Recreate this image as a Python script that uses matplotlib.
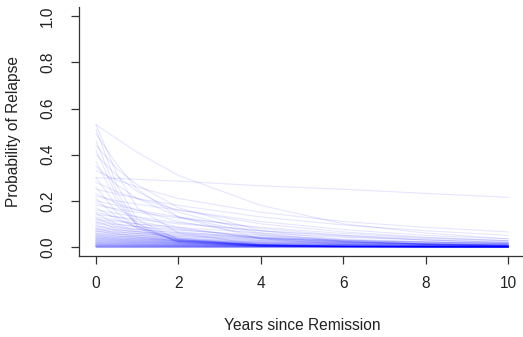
import matplotlib
matplotlib.use("Agg")
import matplotlib.pyplot as plt
import numpy as np

years = [0, 0.5, 1, 2, 4, 6, 8, 10]

# probability of relapse, one row per subject
relapse_curves = [
    [0.53, 0.47, 0.41, 0.31, 0.18, 0.10, 0.06, 0.035],
    [0.53, 0.32, 0.17, 0.06, 0.01, 0.002, 0, 0],
    [0.51, 0.27, 0.12, 0.03, 0.004, 0, 0, 0],
    [0.49, 0.36, 0.25, 0.13, 0.035, 0.01, 0.004, 0.001],
    [0.46, 0.24, 0.10, 0.02, 0.002, 0, 0, 0],
    [0.44, 0.34, 0.27, 0.17, 0.07, 0.03, 0.014, 0.006],
    [0.42, 0.22, 0.09, 0.02, 0.002, 0, 0, 0],
    [0.40, 0.31, 0.24, 0.15, 0.06, 0.025, 0.01, 0.004],
    [0.37, 0.20, 0.09, 0.025, 0.003, 0, 0, 0],
    [0.35, 0.27, 0.21, 0.13, 0.055, 0.025, 0.012, 0.006],
    [0.33, 0.29, 0.26, 0.21, 0.15, 0.11, 0.085, 0.065],
    [0.30, 0.297, 0.293, 0.285, 0.265, 0.25, 0.232, 0.215],
    [0.30, 0.18, 0.10, 0.035, 0.005, 0.001, 0, 0],
    [0.28, 0.24, 0.21, 0.16, 0.10, 0.065, 0.042, 0.027],
    [0.26, 0.15, 0.08, 0.025, 0.003, 0, 0, 0],
    [0.25, 0.23, 0.21, 0.18, 0.13, 0.095, 0.07, 0.05],
    [0.23, 0.19, 0.16, 0.11, 0.05, 0.023, 0.011, 0.005],
    [0.22, 0.20, 0.185, 0.16, 0.11, 0.075, 0.05, 0.035],
    [0.21, 0.13, 0.08, 0.03, 0.005, 0.001, 0, 0],
    [0.20, 0.18, 0.16, 0.13, 0.08, 0.05, 0.03, 0.018],
    [0.19, 0.16, 0.13, 0.085, 0.035, 0.014, 0.006, 0.002],
    [0.18, 0.165, 0.15, 0.125, 0.085, 0.058, 0.04, 0.027],
    [0.17, 0.12, 0.085, 0.04, 0.009, 0.002, 0, 0],
    [0.16, 0.145, 0.13, 0.105, 0.07, 0.045, 0.03, 0.02],
    [0.15, 0.13, 0.11, 0.08, 0.04, 0.02, 0.01, 0.005],
    [0.145, 0.10, 0.07, 0.033, 0.007, 0.002, 0, 0],
    [0.14, 0.13, 0.12, 0.10, 0.07, 0.05, 0.036, 0.026],
    [0.13, 0.115, 0.10, 0.075, 0.042, 0.023, 0.013, 0.007],
    [0.125, 0.09, 0.065, 0.034, 0.009, 0.002, 0.001, 0],
    [0.12, 0.11, 0.10, 0.085, 0.06, 0.042, 0.03, 0.021],
    [0.115, 0.10, 0.088, 0.066, 0.038, 0.021, 0.012, 0.007],
    [0.11, 0.08, 0.058, 0.03, 0.008, 0.002, 0.001, 0],
    [0.105, 0.096, 0.088, 0.073, 0.05, 0.034, 0.023, 0.016],
    [0.10, 0.088, 0.077, 0.06, 0.036, 0.021, 0.013, 0.008],
    [0.095, 0.07, 0.052, 0.028, 0.008, 0.002, 0.001, 0],
    [0.09, 0.082, 0.075, 0.062, 0.043, 0.03, 0.021, 0.014],
    [0.085, 0.075, 0.066, 0.051, 0.03, 0.018, 0.011, 0.006],
    [0.08, 0.06, 0.045, 0.025, 0.008, 0.002, 0.001, 0],
    [0.078, 0.072, 0.066, 0.056, 0.04, 0.029, 0.021, 0.015],
    [0.075, 0.066, 0.058, 0.045, 0.027, 0.016, 0.01, 0.006],
    [0.07, 0.055, 0.043, 0.026, 0.009, 0.003, 0.001, 0],
    [0.068, 0.063, 0.058, 0.05, 0.037, 0.027, 0.02, 0.015],
    [0.065, 0.057, 0.05, 0.038, 0.022, 0.013, 0.008, 0.004],
    [0.06, 0.048, 0.038, 0.024, 0.009, 0.004, 0.001, 0],
    [0.058, 0.054, 0.05, 0.044, 0.034, 0.026, 0.02, 0.016],
    [0.055, 0.048, 0.042, 0.032, 0.019, 0.011, 0.007, 0.004],
    [0.052, 0.042, 0.034, 0.022, 0.009, 0.004, 0.002, 0.001],
    [0.05, 0.046, 0.043, 0.037, 0.028, 0.021, 0.016, 0.012],
    [0.047, 0.041, 0.036, 0.028, 0.017, 0.01, 0.006, 0.004],
    [0.045, 0.036, 0.029, 0.018, 0.007, 0.003, 0.001, 0],
    [0.042, 0.039, 0.036, 0.031, 0.024, 0.019, 0.015, 0.012],
    [0.04, 0.035, 0.031, 0.024, 0.015, 0.009, 0.006, 0.004],
    [0.038, 0.031, 0.025, 0.016, 0.007, 0.003, 0.001, 0],
    [0.036, 0.033, 0.031, 0.027, 0.021, 0.017, 0.014, 0.011],
    [0.034, 0.03, 0.027, 0.021, 0.013, 0.008, 0.005, 0.003],
    [0.032, 0.026, 0.021, 0.014, 0.006, 0.003, 0.001, 0],
    [0.03, 0.028, 0.026, 0.023, 0.018, 0.015, 0.012, 0.01],
    [0.028, 0.025, 0.022, 0.018, 0.011, 0.007, 0.005, 0.003],
    [0.026, 0.022, 0.018, 0.012, 0.005, 0.002, 0.001, 0],
    [0.024, 0.022, 0.021, 0.019, 0.015, 0.013, 0.011, 0.009],
    [0.022, 0.02, 0.018, 0.015, 0.01, 0.007, 0.005, 0.003],
    [0.02, 0.017, 0.014, 0.01, 0.005, 0.002, 0.001, 0],
    [0.019, 0.018, 0.017, 0.015, 0.012, 0.01, 0.008, 0.007],
    [0.017, 0.015, 0.014, 0.011, 0.007, 0.005, 0.003, 0.002],
    [0.015, 0.013, 0.011, 0.008, 0.004, 0.002, 0.001, 0],
    [0.014, 0.013, 0.012, 0.011, 0.009, 0.008, 0.007, 0.006],
    [0.012, 0.011, 0.01, 0.008, 0.006, 0.004, 0.003, 0.002],
    [0.011, 0.009, 0.008, 0.006, 0.003, 0.001, 0.001, 0],
    [0.01, 0.0095, 0.009, 0.008, 0.007, 0.006, 0.005, 0.004],
    [0.008, 0.0075, 0.007, 0.006, 0.004, 0.003, 0.002, 0.0015],
    [0.007, 0.006, 0.005, 0.004, 0.002, 0.001, 0, 0],
    [0.006, 0.0058, 0.0055, 0.005, 0.0045, 0.004, 0.0035, 0.003],
    [0.005, 0.0045, 0.004, 0.0035, 0.0025, 0.002, 0.0015, 0.001],
    [0.004, 0.0035, 0.003, 0.0025, 0.0015, 0.001, 0, 0],
    [0.003, 0.003, 0.0028, 0.0026, 0.0022, 0.002, 0.0018, 0.0016],
    [0.002, 0.002, 0.0018, 0.0016, 0.0012, 0.001, 0.0008, 0.0006],
    [0.001, 0.001, 0.001, 0.0009, 0.0008, 0.0007, 0.0006, 0.0005],
    [0.0015, 0.0012, 0.001, 0.0008, 0.0005, 0.0003, 0.0002, 0.0001],
    [0.0005, 0.0005, 0.0004, 0.0004, 0.0003, 0.0002, 0.0002, 0.0001],
    [0, 0, 0, 0, 0, 0, 0, 0],
    [0, 0, 0, 0, 0, 0, 0, 0],
    [0, 0, 0, 0, 0, 0, 0, 0],
]

xticks = [0, 2, 4, 6, 8, 10]
yticks = [0.0, 0.2, 0.4, 0.6, 0.8, 1.0]

plt.rcParams['font.family'] = ['Liberation Sans', 'DejaVu Sans']

fig = plt.figure(figsize=(5.23, 3.37), dpi=100)
ax = fig.add_axes([0.152, 0.240, 0.851, 0.739])

for curve in relapse_curves:
    ax.plot(years, curve, color=(0, 0, 1), alpha=0.1, lw=0.8)

# R style axes: 4% padding, L-shaped box
ax.set_xlim(-0.4, 10.4)
ax.set_ylim(-0.04, 1.04)
ax.spines['top'].set_visible(False)
ax.spines['right'].set_visible(False)
for s in ['left', 'bottom']:
    ax.spines[s].set_color('#333333')
    ax.spines[s].set_linewidth(0.9)

ax.set_xticks(xticks)
ax.set_xticklabels([str(t) for t in xticks])
ax.set_yticks(yticks)
ax.set_yticklabels(["%.1f" % t for t in yticks], rotation=90, va='center')
ax.tick_params(axis='both', direction='out', length=5.5, width=0.9,
               color='#333333', labelsize=11.2, labelcolor='#222222')
ax.tick_params(axis='x', pad=9)
ax.tick_params(axis='y', pad=12)

ax.set_xlabel('Years since Remission', fontsize=11.2, color='#222222', labelpad=19)
ax.set_ylabel('Probability of Relapse', fontsize=11.2, color='#222222', labelpad=14)

fig.savefig('out.png', dpi=100)
